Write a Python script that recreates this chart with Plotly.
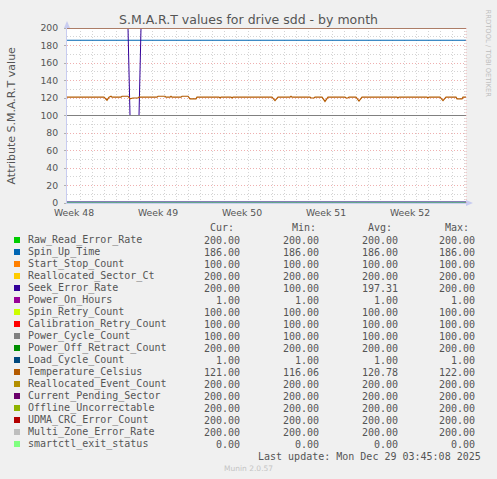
import plotly.graph_objects as go

# ---------------- data ----------------
START = "2025-11-25 22:00"
END = "2025-12-29 04:00"

names = ["Raw_Read_Error_Rate", "Spin_Up_Time", "Start_Stop_Count", "Reallocated_Sector_Ct",
         "Seek_Error_Rate", "Power_On_Hours", "Spin_Retry_Count", "Calibration_Retry_Count",
         "Power_Cycle_Count", "Power_Off_Retract_Count", "Load_Cycle_Count", "Temperature_Celsius",
         "Reallocated_Event_Count", "Current_Pending_Sector", "Offline_Uncorrectable",
         "UDMA_CRC_Error_Count", "Multi_Zone_Error_Rate", "smartctl_exit_status"]
colors = ["#00CC00", "#0066B3", "#FF8000", "#FFCC00", "#330099", "#990099", "#CCFF00", "#FF0000",
          "#808080", "#008F00", "#00487D", "#B35A00", "#B38F00", "#6B006B", "#8FB300", "#B30000",
          "#BEBEBE", "#80FF80"]
cur = [200, 186, 100, 200, 200, 1, 100, 100, 100, 200, 1, 121, 200, 200, 200, 200, 200, 0]
mins = [200, 186, 100, 200, 100, 1, 100, 100, 100, 200, 1, 116.06, 200, 200, 200, 200, 200, 0]
avgs = [200, 186, 100, 200, 197.31, 1, 100, 100, 100, 200, 1, 120.78, 200, 200, 200, 200, 200, 0]
maxs = [200, 186, 100, 200, 200, 1, 100, 100, 100, 200, 1, 122, 200, 200, 200, 200, 200, 0]

seek_t = [START, "2025-12-01 00:00", "2025-12-01 04:00", "2025-12-01 22:00", "2025-12-02 02:00", END]
seek_v = [200, 200, 100, 100, 200, 200]

temp_t = [START, "2025-11-29 00:00", "2025-11-29 06:00", "2025-11-29 10:00", "2025-11-29 14:00",
          "2025-11-29 16:00", "2025-11-30 10:00", "2025-11-30 12:00", "2025-12-01 00:00",
          "2025-12-01 04:00", "2025-12-01 10:00", "2025-12-01 20:00", "2025-12-01 22:00",
          "2025-12-03 10:00", "2025-12-03 12:00", "2025-12-04 02:00", "2025-12-04 04:00",
          "2025-12-04 12:00", "2025-12-04 14:00", "2025-12-04 16:00", "2025-12-05 10:00",
          "2025-12-05 12:00", "2025-12-06 00:00", "2025-12-06 04:00", "2025-12-06 16:00",
          "2025-12-06 18:00", "2025-12-08 14:00", "2025-12-08 16:00", "2025-12-08 18:00",
          "2025-12-09 14:00", "2025-12-09 16:00", "2025-12-09 18:00", "2025-12-13 00:00",
          "2025-12-13 06:00", "2025-12-13 12:00", "2025-12-14 12:00", "2025-12-14 14:00",
          "2025-12-14 16:00", "2025-12-16 04:00", "2025-12-16 06:00", "2025-12-16 12:00",
          "2025-12-16 14:00", "2025-12-17 04:00", "2025-12-17 10:00", "2025-12-17 16:00",
          "2025-12-19 02:00", "2025-12-19 04:00", "2025-12-19 08:00", "2025-12-19 10:00",
          "2025-12-20 00:00", "2025-12-20 06:00", "2025-12-20 12:00", "2025-12-23 10:00",
          "2025-12-23 12:00", "2025-12-23 14:00", "2025-12-25 22:00", "2025-12-26 00:00",
          "2025-12-26 02:00", "2025-12-27 00:00", "2025-12-27 06:00", "2025-12-27 12:00",
          "2025-12-28 08:00", "2025-12-28 10:00", "2025-12-28 20:00", "2025-12-28 22:00", END]
temp_v = [121, 121, 117.5, 121, 122, 121, 121, 122, 122, 119, 120, 120, 121,
          121, 122, 122, 121, 121, 122, 121, 121, 122, 122, 119, 119, 121,
          121, 120, 121, 121, 120, 121, 121, 117, 121, 121, 122, 121,
          121, 120, 120, 121, 121, 116.1, 121, 121, 120, 120, 121,
          121, 116.5, 121, 121, 120, 121, 121, 120, 121, 121, 117, 121,
          121, 119, 119, 121, 121]

week_vals = ["2025-11-26 12:00", "2025-12-03 12:00", "2025-12-10 12:00",
             "2025-12-17 12:00", "2025-12-24 12:00"]
week_text = ["Week 48", "Week 49", "Week 50", "Week 51", "Week 52"]

# ---------------- geometry helpers (pixel -> paper) ----------------
W, H = 497, 479
L, R, T, B = 67, 466, 28, 203


def px(x):
    return (x - L) / (R - L)


def py(y):
    return (B - y) / (B - T)


fig = go.Figure()
for i, n in enumerate(names):
    if n == "Seek_Error_Rate":
        xs, ys = seek_t, seek_v
    elif n == "Temperature_Celsius":
        xs, ys = temp_t, temp_v
    else:
        xs, ys = [START, END], [cur[i], cur[i]]
    fig.add_trace(go.Scatter(x=xs, y=ys, mode="lines", name=n,
                             line=dict(color=colors[i], width=1.2 if n == "Temperature_Celsius" else 1),
                             showlegend=False, hoverinfo="skip"))

GRID_MAJ = "rgba(225,110,110,0.55)"
GRID_MIN = "#D4D4D4"
AXC = "#C8CCF0"
TXT = "#555555"

fig.update_layout(
    width=W, height=H,
    margin=dict(l=L, r=W - R, t=T, b=H - B, pad=0),
    paper_bgcolor="#F0F0F0", plot_bgcolor="#FFFFFF",
    font=dict(family="DejaVu Sans", color=TXT),
    title=dict(text="S.M.A.R.T values for drive sdd - by month", x=0.5, xref="container",
               xanchor="center", y=1 - 19.5 / H, yref="container", yanchor="middle",
               font=dict(family="DejaVu Sans", size=12.5, color="#555555")),
    xaxis=dict(type="date", range=[START, END], tickmode="array", tickvals=week_vals,
               ticktext=week_text, showgrid=False, zeroline=False, ticks="",
               ticklabelstandoff=1,
               tickfont=dict(size=9.3, color=TXT), showline=True, linecolor=AXC,
               minor=dict(tickmode="linear", tick0="2025-11-30", dtick=86400000, showgrid=True,
                          gridcolor=GRID_MIN, griddash="1px,2px", gridwidth=1, ticks="")),
    xaxis2=dict(type="date", range=[START, END], overlaying="x", tickmode="linear",
                tick0="2025-11-30", dtick=604800000, showgrid=True, gridcolor=GRID_MAJ,
                griddash="1px,2px", showticklabels=False, ticks="", zeroline=False),
    yaxis=dict(range=[0, 200], tickmode="linear", tick0=0, dtick=20, showgrid=True,
               gridcolor=GRID_MAJ, griddash="1px,2px", zeroline=False, ticks="outside",
               ticklen=2, tickcolor="#B0B0B0", ticklabelstandoff=4,
               tickfont=dict(size=9.3, color=TXT), showline=True, linecolor=AXC,
               minor=dict(tickmode="linear", tick0=0, dtick=10, showgrid=True,
                          gridcolor=GRID_MIN, griddash="1px,2px", ticks="")),
)

shapes = []
# axis arrows
shapes.append(dict(type="path", xref="paper", yref="paper", fillcolor=AXC, line=dict(width=0),
                   path=f"M {px(64)} {py(28)} L {px(67)} {py(21)} L {px(70)} {py(28)} Z"))
shapes.append(dict(type="path", xref="paper", yref="paper", fillcolor=AXC, line=dict(width=0),
                   path=f"M {px(466)} {py(200)} L {px(473)} {py(203)} L {px(466)} {py(206)} Z"))
# right frame (dotted)
shapes.append(dict(type="line", xref="paper", yref="paper", x0=1, x1=1, y0=0, y1=1,
                   line=dict(color=GRID_MAJ, width=1, dash="1px,2px")))

ann = []
MONO = "DejaVu Sans Mono"
ann.append(dict(text="Attribute S.M.A.R.T value", x=px(11), y=py(115.5), xref="paper", yref="paper",
                xanchor="center", yanchor="middle",
                textangle=-90, showarrow=False, font=dict(size=11, color=TXT)))
ann.append(dict(text="RRDTOOL / TOBI OETIKER", x=px(488), y=py(53.5), xref="paper", yref="paper",
                xanchor="center", yanchor="middle",
                textangle=90, showarrow=False, font=dict(size=6.8, color="#BDBDBD")))

col_right = [242, 320.5, 399.5, 477]
hdr_right = [236, 317.5, 394, 471]
headers = ["Cur:", "Min:", "Avg:", "Max:"]
for h, xr in zip(headers, hdr_right):
    ann.append(dict(text=h, x=px(xr), y=py(227.5), xref="paper", yref="paper", xanchor="right",
                    yanchor="middle", showarrow=False, font=dict(family=MONO, size=10, color=TXT)))

for i, n in enumerate(names):
    yc = 240 + 12 * i
    shapes.append(dict(type="rect", xref="paper", yref="paper", x0=px(14), x1=px(20),
                       y0=py(yc + 3), y1=py(yc - 3), fillcolor=colors[i], line=dict(width=0)))
    ann.append(dict(text=n, x=px(26), y=py(yc), xref="paper", yref="paper", xanchor="left",
                    yanchor="middle", showarrow=False, font=dict(family=MONO, size=10, color=TXT)))
    for v, xr in zip([cur[i], mins[i], avgs[i], maxs[i]], col_right):
        ann.append(dict(text=f"{v:.2f}", x=px(xr), y=py(yc), xref="paper", yref="paper",
                        xanchor="right", yanchor="middle", showarrow=False,
                        font=dict(family=MONO, size=10, color=TXT)))

ann.append(dict(text="Last update: Mon Dec 29 03:45:08 2025", x=px(483), y=py(456), xref="paper",
                yref="paper", xanchor="right", yanchor="middle", showarrow=False,
                font=dict(family=MONO, size=10, color=TXT)))
ann.append(dict(text="Munin 2.0.57", x=px(248.5), y=py(468), xref="paper", yref="paper",
                xanchor="center", yanchor="middle", showarrow=False,
                font=dict(family="DejaVu Sans", size=7.5, color="#C4C4C4")))

fig.update_layout(shapes=shapes, annotations=ann)
fig.write_html("out.html", config={"displayModeBar": False},
               post_script="document.body.style.margin='0';document.body.style.overflow='hidden';")
